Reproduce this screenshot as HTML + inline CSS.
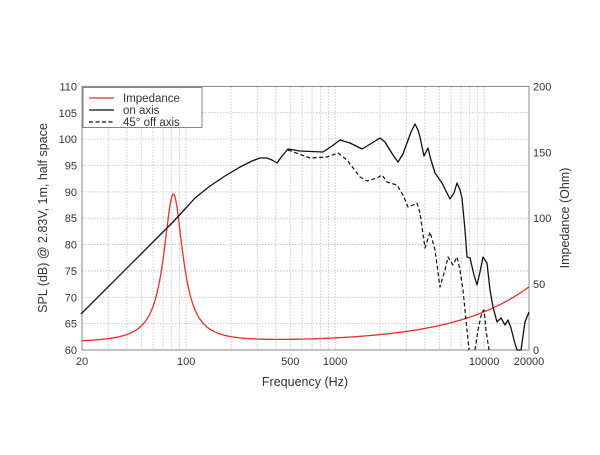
<!DOCTYPE html>
<html><head><meta charset="utf-8"><style>
body{margin:0;background:#fff}
svg text{font-family:"Liberation Sans",sans-serif;fill:#333}
</style></head><body>
<svg id="s" width="600" height="450" xmlns="http://www.w3.org/2000/svg">
<g id="grid" stroke="#bbb" stroke-width="0.8" stroke-dasharray="1.5,1.5"></g>
<rect x="82" y="86.4" width="447" height="263.6" fill="none" stroke="#888" stroke-width="1"/>
<g id="lab" font-size="11"></g>
<path id="imp" fill="none" stroke="#e8302a" stroke-width="1.3"/>
<path fill="none" stroke="#111" stroke-width="1.3" stroke-linejoin="round" d="M81,314 L173,222 L185,209 L195,198 L210,186 L225,176 L240,167 L252,161 L260,158 L267,158 L272,160 L277,163 L282,156 L288,149 L300,151 L323,152 L332,146 L340,140 L350,143 L362,149 L372,143 L380,138 L385,142 L388,147 L393,155 L398,162 L403,154 L407,143 L411,132 L415,124 L418,130 L420,137 L424,156 L428,148 L431,160 L435,173 L442,183 L450,199 L454,193 L457,183 L460,190 L462,198 L465,230 L467,257 L470,258 L474,275 L477,285 L480,272 L483,257 L487,263 L490,290 L493,307 L497,322 L501,318 L505,325 L508,320 L511,328 L514,340 L517,350 L521,350 L525,322 L529,312"/>
<g fill="none" stroke="#111" stroke-width="1.2" stroke-dasharray="4,2.5" stroke-linejoin="round">
<path d="M288,150 L310,158 L327,157 L338,153 L347,160 L360,177 L367,181 L377,178 L382,175 L387,182 L397,185 L403,195 L408,207 L413,205 L417,203 L420,213 L425,248 L430,232 L435,250 L440,287 L445,270 L448,257 L453,265 L457,257 L460,270 L463,290 L466,320 L469,350"/>
<path d="M475,350 L478,330 L482,312 L484,310 L486,330 L489,350"/>
</g>
<rect x="83" y="87.5" width="119" height="40" fill="#fff" stroke="#666" stroke-width="0.8"/>
<line x1="89" y1="98" x2="114" y2="98" stroke="#e8302a" stroke-width="1.3"/>
<line x1="89" y1="110" x2="114" y2="110" stroke="#111" stroke-width="1.3"/>
<line x1="89" y1="122" x2="114" y2="122" stroke="#111" stroke-width="1.2" stroke-dasharray="4,2.5"/>
<text x="123" y="102" font-size="11.5">Impedance</text>
<text x="123" y="114" font-size="11.5">on axis</text>
<text x="123" y="126" font-size="11.5">45° off axis</text>
<text x="305" y="386" font-size="12.5" text-anchor="middle">Frequency (Hz)</text>
<text transform="translate(47,218) rotate(-90)" font-size="12.5" text-anchor="middle">SPL (dB) @ 2.83V, 1m, half space</text>
<text transform="translate(569,218) rotate(-90)" font-size="12.5" text-anchor="middle">Impedance (Ohm)</text>
</svg>
<script>
var L=82,R=529,T=86.4,B=350,ns="http://www.w3.org/2000/svg";
function fx(f){return L+(R-L)*Math.log10(f/20)/3;}
function el(t,a,p,txt){var e=document.createElementNS(ns,t);for(var k in a)e.setAttribute(k,a[k]);if(txt!=null)e.textContent=txt;p.appendChild(e);}
var g=document.getElementById('grid'),lab=document.getElementById('lab');
for(var d=10;d<=10000;d*=10)for(var m=1;m<10;m++){var f=d*m;if(f<=20||f>=20000)continue;var x=fx(f);el('line',{x1:x,y1:T,x2:x,y2:B},g);}
for(var i=1;i<10;i++){var y=B-i*(B-T)/10;el('line',{x1:L,y1:y,x2:R,y2:y},g);}
for(var i=0;i<=10;i++){var y=B-i*(B-T)/10;el('text',{x:77,y:y+4,'text-anchor':'end'},lab,String(60+5*i));}
for(var i=0;i<=4;i++){var y=B-i*(B-T)/4;el('text',{x:533,y:y+4},lab,String(50*i));}
[[20,'20'],[100,'100'],[500,'500'],[1000,'1000'],[10000,'10000'],[20000,'20000']].forEach(function(a){el('text',{x:fx(a[0]),y:365,'text-anchor':'middle'},lab,a[1]);});
var d2='',fs=82,Q=2.8,k=42/Math.pow(20000,0.87);
for(var i=0;i<=600;i++){var f=20*Math.pow(1000,i/600);var u=f/fs-fs/f;var Z=6+112/(1+Q*Q*u*u)+k*Math.pow(f,0.87);var y=B-Z*(B-T)/200;d2+=(i?'L':'M')+fx(f).toFixed(1)+','+y.toFixed(1);}
document.getElementById('imp').setAttribute('d',d2);
</script>
</body></html>
